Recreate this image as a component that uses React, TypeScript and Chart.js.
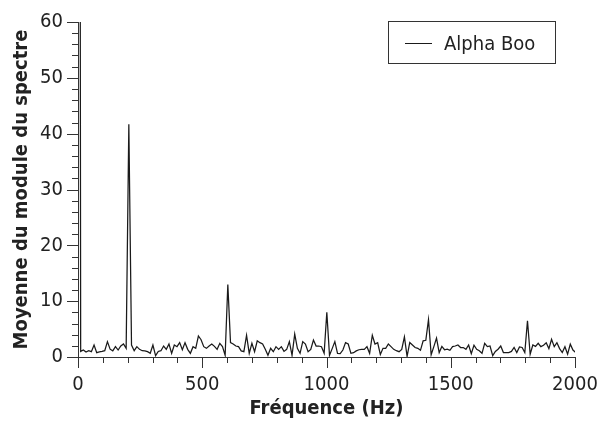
import React, { useEffect, useRef } from "react";
import { Chart, registerables } from "chart.js";

Chart.register(...registerables);

// Spectrum bin spacing (Hz)
const FREQ_STEP = 10.7666;
// Mean spectrum magnitude per bin (bin 0 is far off-scale)
const AMPLITUDES = [
  400, 1.0, 1.25, 0.9, 1.13, 0.95, 2.15, 0.78, 0.9, 1.0,
  1.13, 2.75, 1.4, 1.1, 1.85, 1.25, 1.97, 2.33, 1.55, 41.7,
  2.15, 1.13, 1.85, 1.37, 1.13, 1.1, 0.95, 0.66, 2.15, 0.24,
  1.0, 1.13, 1.97, 1.37, 2.33, 0.66, 2.15, 1.85, 2.57, 1.3,
  2.57, 1.37, 0.66, 1.85, 1.55, 3.76, 3.1, 1.85, 1.55, 1.97,
  2.33, 1.9, 1.37, 2.45, 1.85, 0.3, 13.0, 2.57, 2.33, 1.97,
  1.85, 1.1, 0.95, 3.9, 0.66, 2.45, 0.95, 2.9, 2.57, 2.33,
  1.4, 0.3, 1.55, 0.95, 1.85, 1.37, 1.85, 1.0, 1.37, 2.75,
  0.3, 4.1, 1.55, 0.66, 2.75, 2.33, 0.95, 1.37, 3.05, 1.97,
  1.97, 1.85, 0.66, 8.0, 0.3, 1.5, 2.75, 0.66, 0.6, 1.25,
  2.57, 2.33, 0.66, 0.78, 1.1, 1.3, 1.37, 1.37, 1.85, 0.66,
  3.9, 2.33, 2.57, 0.45, 1.55, 1.55, 2.33, 1.85, 1.37, 1.13,
  0.95, 1.37, 3.6, 0.1, 2.6, 2.15, 1.7, 1.55, 1.2, 2.9,
  3.0, 6.7, 0.4, 1.85, 3.4, 0.8, 1.9, 1.3, 1.4, 1.2,
  1.85, 1.97, 2.15, 1.7, 1.7, 1.37, 2.15, 0.6, 2.1, 1.37,
  1.13, 0.66, 2.45, 1.85, 1.97, 0.24, 1.0, 1.4, 1.97, 0.8,
  0.8, 0.8, 1.0, 1.7, 0.8, 1.8, 1.7, 0.8, 6.5, 0.5,
  2.15, 1.9, 2.45, 1.85, 2.1, 2.55, 1.5, 3.17, 1.85, 2.55,
  1.5, 0.8, 1.85, 0.5, 2.3, 1.25, 0.8,
];

const X_TICKS = [0, 500, 1000, 1500, 2000];
const Y_TICKS = [0, 10, 20, 30, 40, 50, 60];
const X_MINOR_STEP = 100;
const Y_MINOR_STEP = 2;

const SERIES_LABEL = "Alpha Boo";
const X_TITLE = "Fréquence (Hz)";
const Y_TITLE = "Moyenne du module du spectre";

const FONT = '"DejaVu Sans Condensed", "DejaVu Sans", sans-serif';
const TEXT_COLOR = "#222";
const AXIS_COLOR = "#333";

const tickPlugin = {
  id: "majorMinorTicks",
  afterDraw(chart: any) {
    const { ctx, chartArea, scales } = chart;
    const xs = scales.x;
    const ys = scales.y;
    ctx.save();
    ctx.strokeStyle = AXIS_COLOR;
    ctx.lineWidth = 1;
    ctx.beginPath();
    const xFirst = X_TICKS[0];
    const xLast = X_TICKS[X_TICKS.length - 1];
    const nx = Math.round((xLast - xFirst) / X_MINOR_STEP);
    for (let k = 0; k <= nx; k++) {
      const v = xFirst + k * X_MINOR_STEP;
      const px = Math.round(xs.getPixelForValue(v)) + 0.5;
      const len = X_TICKS.includes(v) ? 11 : 6;
      ctx.moveTo(px, chartArea.bottom);
      ctx.lineTo(px, chartArea.bottom + len);
    }
    const yFirst = Y_TICKS[0];
    const yLast = Y_TICKS[Y_TICKS.length - 1];
    const ny = Math.round((yLast - yFirst) / Y_MINOR_STEP);
    for (let k = 0; k <= ny; k++) {
      const v = yFirst + k * Y_MINOR_STEP;
      const py = Math.round(ys.getPixelForValue(v)) + 0.5;
      const len = Y_TICKS.includes(v) ? 11 : 6;
      ctx.moveTo(chartArea.left, py);
      ctx.lineTo(chartArea.left - len, py);
    }
    ctx.stroke();
    ctx.restore();
  },
};

export default function App() {
  const canvasRef = useRef<HTMLCanvasElement | null>(null);

  useEffect(() => {
    const canvas = canvasRef.current;
    if (!canvas) return;
    const points = AMPLITUDES.map((v, i) => ({ x: i * FREQ_STEP, y: v }));
    const chart = new Chart(canvas, {
      type: "line",
      data: {
        datasets: [
          {
            label: SERIES_LABEL,
            data: points,
            borderColor: "#1a1a1a",
            borderWidth: 1.25,
            pointRadius: 0,
            tension: 0,
            fill: false,
          },
        ],
      },
      options: {
        responsive: false,
        animation: false,
        events: [],
        layout: { padding: { left: 0, top: 22, right: 24, bottom: 0 } },
        plugins: {
          legend: { display: false },
          tooltip: { enabled: false },
        },
        scales: {
          x: {
            type: "linear",
            min: X_TICKS[0],
            max: X_TICKS[X_TICKS.length - 1],
            afterBuildTicks: (s: any) => {
              s.ticks = X_TICKS.map((v) => ({ value: v }));
            },
            afterFit: (s: any) => {
              s.height = 71;
              s.paddingLeft = 0;
              s.paddingRight = 0;
            },
            grid: { display: false, drawTicks: false },
            border: { display: true, color: AXIS_COLOR, width: 1 },
            ticks: {
              padding: 16,
              maxRotation: 0,
              autoSkip: false,
              color: TEXT_COLOR,
              font: { family: FONT, size: 20 },
              callback: (v: any) => String(v),
            },
            title: {
              display: true,
              text: X_TITLE,
              color: TEXT_COLOR,
              font: { family: FONT, size: 20, weight: "bold" },
              padding: { top: 0, bottom: 7 },
            },
          },
          y: {
            type: "linear",
            min: Y_TICKS[0],
            max: Y_TICKS[Y_TICKS.length - 1],
            afterBuildTicks: (s: any) => {
              s.ticks = Y_TICKS.map((v) => ({ value: v }));
            },
            afterFit: (s: any) => {
              s.width = 78;
              s.paddingTop = 0;
              s.paddingBottom = 0;
            },
            grid: { display: false, drawTicks: false },
            border: { display: true, color: AXIS_COLOR, width: 1 },
            ticks: {
              padding: 15,
              color: TEXT_COLOR,
              font: { family: FONT, size: 20 },
              callback: (v: any) => String(v),
            },
            title: {
              display: true,
              text: Y_TITLE,
              color: TEXT_COLOR,
              font: { family: FONT, size: 20, weight: "bold" },
              padding: { top: 10, bottom: 0 },
            },
          },
        },
      },
      plugins: [tickPlugin],
    } as any);
    return () => chart.destroy();
  }, []);

  return (
    <div
      style={{
        position: "absolute",
        left: 0,
        top: 0,
        width: 599,
        height: 428,
        background: "#fff",
        fontFamily: FONT,
      }}
    >
      <canvas ref={canvasRef} width={599} height={428} />
      <div
        style={{
          position: "absolute",
          left: 388,
          top: 21,
          width: 166,
          height: 41,
          border: `1px solid ${AXIS_COLOR}`,
          boxSizing: "content-box",
        }}
      >
        <div
          style={{
            position: "absolute",
            left: 16,
            top: 21,
            width: 27,
            height: 1,
            background: "#1a1a1a",
          }}
        />
        <div
          style={{
            position: "absolute",
            left: 55,
            top: 0,
            height: 41,
            lineHeight: "43px",
            fontSize: 20,
            color: TEXT_COLOR,
            whiteSpace: "nowrap",
          }}
        >
          {SERIES_LABEL}
        </div>
      </div>
    </div>
  );
}
